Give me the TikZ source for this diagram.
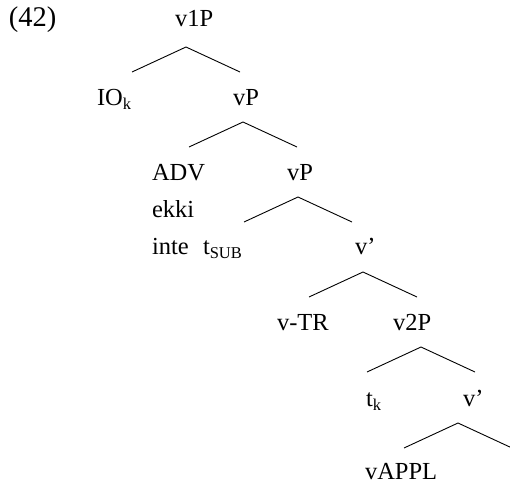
\documentclass[tikz,border=0pt]{standalone}
\usepackage{fontspec}
\setmainfont{Liberation Serif}
\newcommand\lsub[1]{\raisebox{-0.2em}{\fontsize{16.5}{16.5}\selectfont #1}}
\tikzset{
  lab/.style={anchor=base west,inner sep=0pt,outer sep=0pt,font=\fontsize{24.5}{29}\selectfont},
  exnum/.style={lab,font=\fontsize{28.5}{33}\selectfont},
  branch/.style={line width=0.9pt,black}
}
\begin{document}
\begin{tikzpicture}[x=1pt,y=-1pt]
\useasboundingbox (0,0) rectangle (510,484);
% labels
\node[exnum] (ex) at (9,27) {(42)};
\node[lab] (v1P) at (175,27) {v1P};
\node[lab] (IO) at (97,105) {IO\lsub{k}};
\node[lab] (vPa) at (233,105) {vP};
\node[lab] (ADV) at (152,180) {ADV};
\node[lab] (ekki) at (152,217) {ekki};
\node[lab] (inte) at (152,254) {inte};
\node[lab] (vPb) at (287,180) {vP};
\node[lab] (tsub) at (203,254) {t\lsub{SUB}};
\node[lab] (vbara) at (355,254) {v’};
\node[lab] (vTR) at (277,330) {v-TR};
\node[lab] (v2P) at (393,330) {v2P};
\node[lab] (tk) at (366,406) {t\lsub{k}};
\node[lab] (vbarb) at (463,406) {v’};
\node[lab] (vAPPL) at (365,479) {vAPPL};
% branch points
\foreach \n/\x/\y in {a/186/47, b/243/122, c/298/197, d/363/272, e/421/347, f/458/423}{
  \coordinate (\n) at (\x,\y);
  \coordinate (\n L) at (\x-54,\y+25);
  \coordinate (\n R) at (\x+54,\y+25);
  \draw[branch] (\n L) -- (\n) -- (\n R);
}
\end{tikzpicture}
\end{document}
